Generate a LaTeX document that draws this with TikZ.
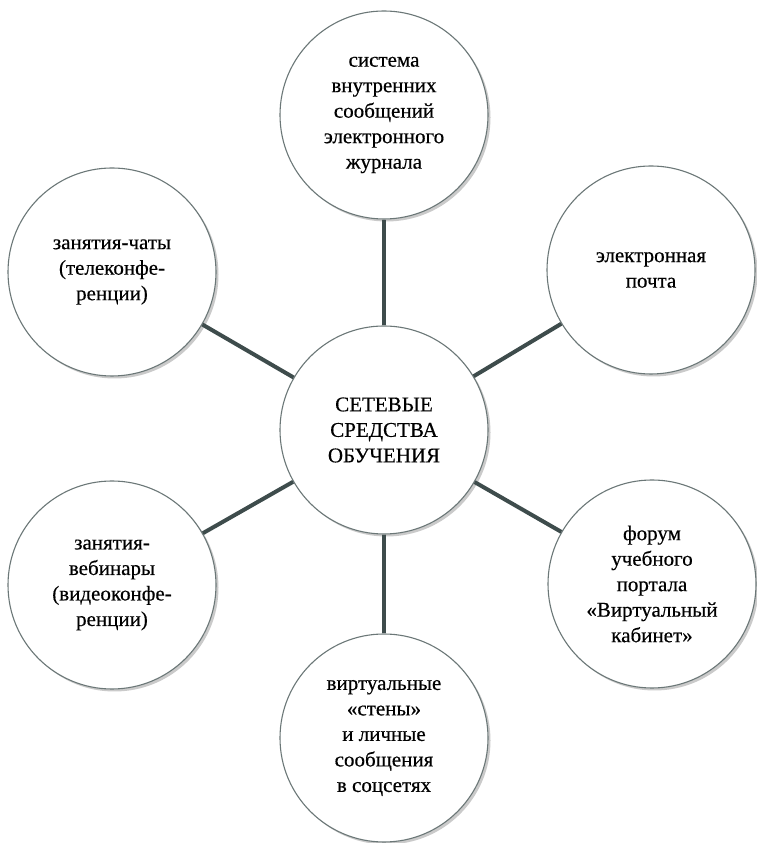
\documentclass[tikz,border=0pt]{standalone}
\usepackage{fontspec}
\setmainfont{Liberation Serif}
\newfontfamily\ringfont[FakeBold=0.4]{Liberation Serif}
\usetikzlibrary{shadows}

\definecolor{ringgray}{HTML}{6B7777}
\definecolor{spokegray}{HTML}{3E4C4C}

\tikzset{
  Ring/.style={shape=circle, draw=ringgray, line width=1.1pt, fill=white,
               minimum size=208pt, inner sep=0pt, align=center,
               font=\ringfont\fontsize{21}{25.5}\selectfont,
               drop shadow={shadow xshift=2.5pt, shadow yshift=-2.5pt,
                            opacity=0.35, fill=black!60}},
  Spoke/.style={draw=spokegray, line width=4pt}
}

\begin{document}
\begin{tikzpicture}[x=1pt,y=1pt]
\useasboundingbox (0,0) rectangle (757,843);

\node[Ring] (CC) at (384,413) {СЕТЕВЫЕ\\СРЕДСТВА\\ОБУЧЕНИЯ};
\node[Ring] (NN) at (384,728) {система\\внутренних\\сообщений\\электронного\\журнала};
\node[Ring] (NE) at (651,573) {электронная\\почта};
\node[Ring] (NW) at (112,571) {занятия-чаты\\(телеконфе-\\ренции)};
\node[Ring] (SW) at (112,258) {занятия-\\вебинары\\(видеоконфе-\\ренции)};
\node[Ring] (SE) at (652,259) {форум\\учебного\\портала\\«Виртуальный\\кабинет»};
\node[Ring] (SS) at (384,105) {виртуальные\\«стены»\\и личные\\сообщения\\в соцсетях};

\draw[Spoke] (CC) -- (NN);
\draw[Spoke] (CC) -- (NE);
\draw[Spoke] (CC) -- (NW);
\draw[Spoke] (CC) -- (SW);
\draw[Spoke] (CC) -- (SE);
\draw[Spoke] (CC) -- (SS);

\end{tikzpicture}
\end{document}
